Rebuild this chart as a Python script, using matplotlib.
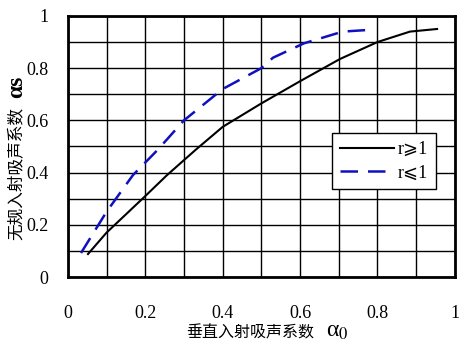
import matplotlib
matplotlib.use("Agg")
import matplotlib.pyplot as plt

plt.rcParams["mathtext.fontset"] = "stix"

# curve r >= 1 (solid black)
x_ge = [0.052, 0.10, 0.15, 0.20, 0.256, 0.33, 0.40, 0.50, 0.60, 0.703, 0.80, 0.884, 0.954]
y_ge = [0.088, 0.17, 0.24, 0.31, 0.39, 0.487, 0.575, 0.665, 0.75, 0.835, 0.90, 0.94, 0.95]
# curve r <= 1 (dashed blue)
x_le = [0.034, 0.10, 0.168, 0.232, 0.30, 0.40, 0.50, 0.53, 0.61, 0.71, 0.773]
y_le = [0.092, 0.25, 0.39, 0.487, 0.60, 0.72, 0.80, 0.84, 0.895, 0.94, 0.946]

ticks = [0, 0.2, 0.4, 0.6, 0.8, 1]
tick_labels = ["0", "0.2", "0.4", "0.6", "0.8", "1"]

serif = ["Liberation Serif", "DejaVu Serif", "DejaVu Sans"]
cjk = ["Noto Sans CJK SC", "DejaVu Sans"]

fig = plt.figure(figsize=(4.68, 3.54), dpi=100)
ax = fig.add_axes([0.145, 0.2175, 0.827, 0.7375])

ax.plot(x_ge, y_ge, color="black", lw=1.5, label="r⩾1")
ax.plot(x_le, y_le, color="#1010c0", lw=1.8, dashes=(7, 4), label="r⩽1")

ax.set_xlim(0, 1)
ax.set_ylim(0, 1)
ax.set_xticks(ticks)
ax.set_yticks(ticks)
ax.set_xticklabels(tick_labels, family=serif, fontsize=13)
ax.set_yticklabels(tick_labels, family=serif, fontsize=13)
ax.set_xticks([i / 10 for i in range(11)], minor=True)
ax.set_yticks([i / 10 for i in range(11)], minor=True)
ax.grid(True, which="both", color="black", lw=1)
ax.tick_params(which="both", length=0)
ax.tick_params(axis="x", pad=20)
ax.tick_params(axis="y", pad=14)
for s in ax.spines.values():
    s.set_linewidth(2)

leg = ax.legend(loc="upper left", bbox_to_anchor=(0.682, 0.552), borderaxespad=0,
                prop={"family": serif, "size": 13},
                frameon=True, fancybox=False, edgecolor="black", framealpha=1,
                handlelength=3.0, handletextpad=0.2, borderpad=0.45, labelspacing=0.35)
leg.get_frame().set_linewidth(1)

fig.text(0.534, 0.06, "垂直入射吸声系数", family=cjk, fontsize=11.5, ha="center", va="center")
fig.text(0.72, 0.063, "α$_0$", family=serif, fontsize=17, ha="center", va="center")
fig.text(0.036, 0.51, "无规入射吸声系数", family=cjk, fontsize=12, rotation=90,
         ha="center", va="center")
fig.text(0.036, 0.755, "αs", family=serif, fontsize=17, fontweight="bold", rotation=90,
         ha="center", va="center")

fig.savefig("out.png", dpi=100)
